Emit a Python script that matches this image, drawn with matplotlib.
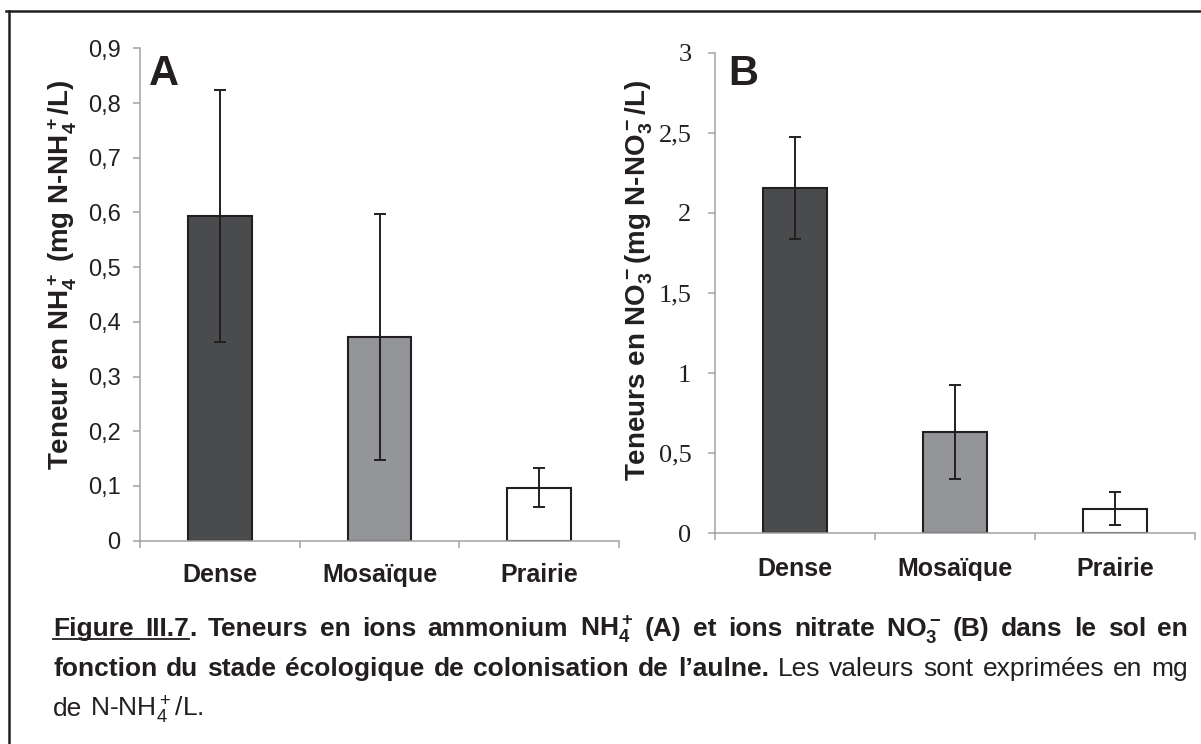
import numpy as np
import matplotlib
matplotlib.use("Agg")
import matplotlib.pyplot as plt
from matplotlib.lines import Line2D
from matplotlib.transforms import IdentityTransform

plt.rcParams.update({
    "font.family": "Liberation Sans",
    "mathtext.fontset": "custom",
    "mathtext.rm": "Liberation Sans",
    "mathtext.bf": "Liberation Sans:bold",
    "mathtext.default": "regular",
})

# ---- data -------------------------------------------------------------
categories = ["Dense", "Mosaïque", "Prairie"]
nh4_mean = [0.594, 0.372, 0.097]
nh4_err = [0.230, 0.225, 0.036]
no3_mean = [2.155, 0.632, 0.154]
no3_err = [0.318, 0.294, 0.102]
nh4_ticks = [0, 0.1, 0.2, 0.3, 0.4, 0.5, 0.6, 0.7, 0.8, 0.9]
no3_ticks = [0, 0.5, 1, 1.5, 2, 2.5, 3]
bar_colors = ["#4a4b4d", "#939598", "#ffffff"]

INK = "#231f20"
AXIS = "#a3a3a3"
W, H, DPI = 1201, 744, 100

fig = plt.figure(figsize=(W / DPI, H / DPI), dpi=DPI, facecolor="white")


def axes_px(left, right, top, bottom):
    return fig.add_axes([left / W, 1 - bottom / H, (right - left) / W, (bottom - top) / H])


def comma(v):
    return f"{v:g}".replace(".", ",")


def panel(ax, means, errs, ticks, tick_family, tick_size, tick_pad, label_pad):
    x = np.arange(len(categories))
    ax.bar(x, means, width=0.4, color=bar_colors, edgecolor=INK, linewidth=1.5, zorder=2)
    ax.errorbar(x, means, yerr=errs, fmt="none", ecolor=INK, elinewidth=1.4,
                capsize=4, capthick=1.4, zorder=3)
    ax.set_xlim(-0.5, len(categories) - 0.5)
    ax.set_ylim(ticks[0], ticks[-1])
    ax.set_yticks(ticks)
    ax.set_yticklabels([comma(t) for t in ticks], family=tick_family,
                       fontsize=tick_size, color=INK)
    ax.set_xticks(np.arange(len(categories) + 1) - 0.5)
    ax.set_xticklabels([])
    ax.set_xticks(x, minor=True)
    ax.set_xticklabels(categories, minor=True, fontsize=18, fontweight="bold", color=INK)
    ax.tick_params(axis="x", which="major", length=5, width=1.1, color=AXIS)
    ax.tick_params(axis="x", which="minor", length=0, pad=label_pad)
    ax.tick_params(axis="y", length=5, width=1.1, color=AXIS, pad=tick_pad)
    for side in ("top", "right"):
        ax.spines[side].set_visible(False)
    for side in ("left", "bottom"):
        ax.spines[side].set_color(AXIS)
        ax.spines[side].set_linewidth(1.1)
    ax.patch.set_alpha(0)


ax_a = axes_px(140, 619, 48.3, 540.7)
panel(ax_a, nh4_mean, nh4_err, nh4_ticks, "Liberation Sans", 17, 9, 16)
ax_b = axes_px(715, 1195, 52.7, 533.3)
panel(ax_b, no3_mean, no3_err, no3_ticks, "Liberation Serif", 19, 12, 17)

# panel letters
fig.text(149 / W, 1 - 85 / H, "A", fontsize=30, fontweight="bold", color=INK,
         ha="left", va="baseline")
fig.text(728 / W, 1 - 85 / H, "B", fontsize=30, fontweight="bold", color=INK,
         ha="left", va="baseline")

# axis titles
fig.text(62 / W, 1 - 275 / H, "Teneur en $NH_4^+$ (mg N-$NH_4^+$/L)", rotation=90,
         fontsize=20, fontweight="bold", color=INK, ha="center", va="center")
fig.text(639 / W, 1 - 280 / H, "Teneurs en $NO_3^-$(mg N-$NO_3^-$/L)", rotation=90,
         fontsize=20, fontweight="bold", color=INK, ha="center", va="center")

# frame around the figure
fig.add_artist(Line2D([6 / W, 1], [1 - 11 / H, 1 - 11 / H], transform=fig.transFigure,
                      lw=1.8, color=INK))
fig.add_artist(Line2D([8.5 / W, 8.5 / W], [1 - 11 / H, 0], transform=fig.transFigure,
                      lw=1.8, color=INK))

# ---- justified caption --------------------------------------------------
renderer = fig.canvas.get_renderer()
CAP_SIZE = 19


def words(s, bold):
    return [[(w, bold, False)] for w in s.split()]


def caption_line(line_words, y, x0=53, x1=1188, justify=True):
    placed = []
    for word in line_words:
        runs = []
        for text, bold, ul in word:
            t = fig.text(0, 0, text, transform=IdentityTransform(), fontsize=CAP_SIZE,
                         fontweight="bold" if bold else "normal", color=INK,
                         ha="left", va="baseline")
            runs.append((t, t.get_window_extent(renderer).width, ul))
        placed.append(runs)
    widths = [sum(r[1] for r in runs) for runs in placed]
    if justify and len(placed) > 1:
        gap = (x1 - x0 - sum(widths)) / (len(placed) - 1)
    else:
        gap = 0.278 * CAP_SIZE * DPI / 72
    x = x0
    yd = H - y
    spans = []
    for runs in placed:
        for t, rw, ul in runs:
            t.set_position((x, yd))
            if ul:
                spans.append((x, x + rw))
            x += rw
        x += gap
    if spans:
        xs = [spans[0][0], spans[-1][1]]
        fig.add_artist(Line2D(xs, [yd - 3, yd - 3], transform=IdentityTransform(),
                              lw=1.3, color=INK))


line1 = ([[("Figure", True, True)], [("III.7", True, True), (".", True, False)]]
         + words("Teneurs en ions ammonium $NH_4^+$ (A) et ions nitrate $NO_3^-$ (B) "
                 "dans le sol en", True))
line2 = (words("fonction du stade écologique de colonisation de l’aulne.", True)
         + words("Les valeurs sont exprimées en mg", False))
line3 = words("de N-$NH_4^+$/L.", False)

caption_line(line1, 636)
caption_line(line2, 676)
caption_line(line3, 716, justify=False)

fig.savefig("out.png", dpi=DPI, facecolor="white")
